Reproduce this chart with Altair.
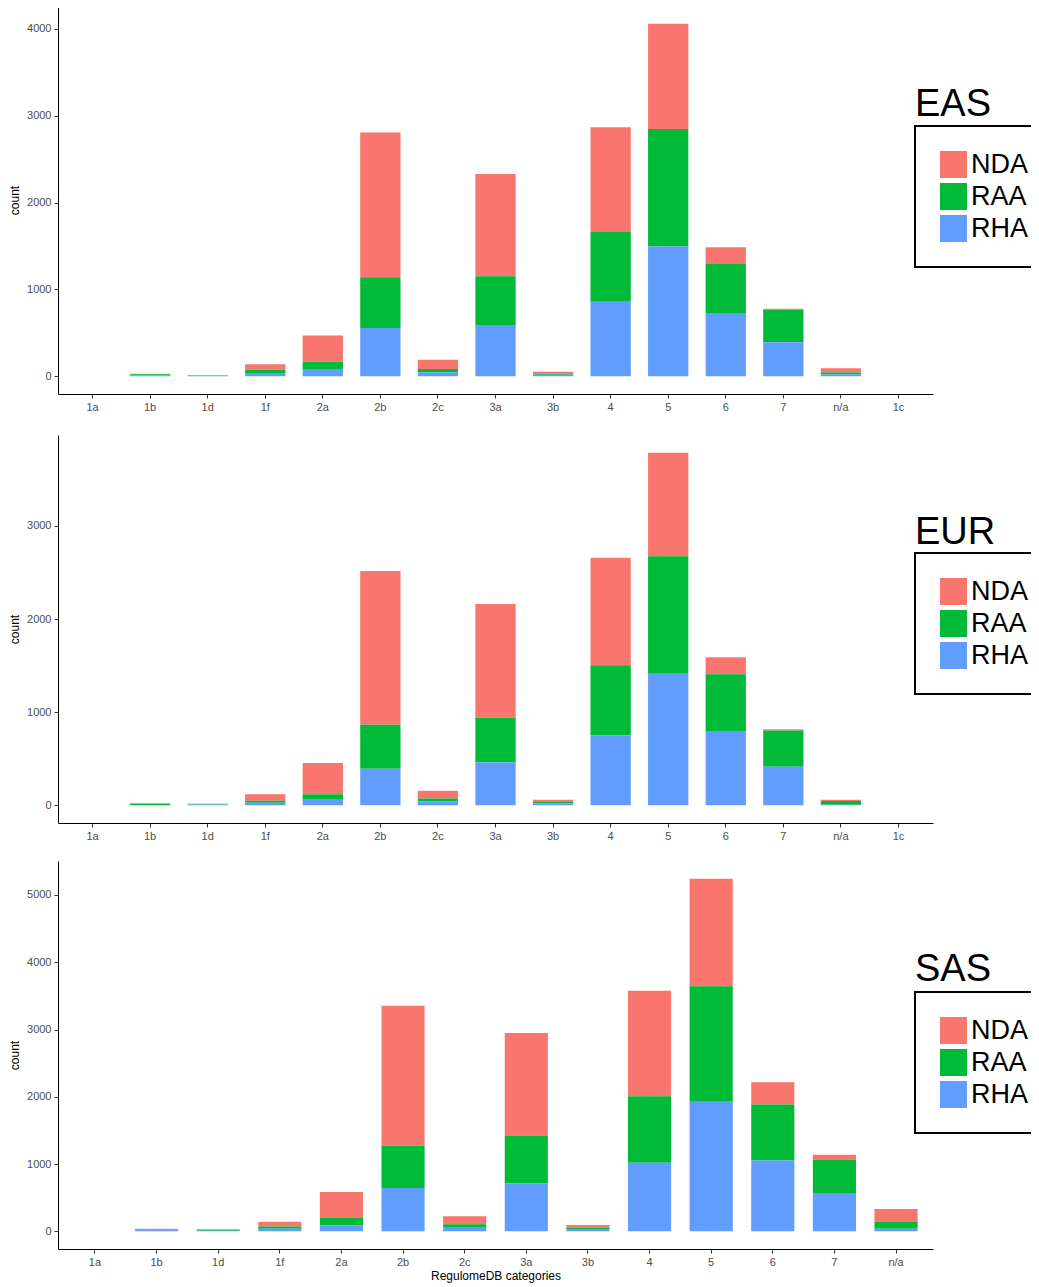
import altair as alt
import pandas as pd

categories_full = ["1a", "1b", "1d", "1f", "2a", "2b", "2c", "3a", "3b", "4", "5", "6", "7", "n/a", "1c"]
categories_sas = ["1a", "1b", "1d", "1f", "2a", "2b", "2c", "3a", "3b", "4", "5", "6", "7", "n/a"]
groups = ["NDA", "RAA", "RHA"]
colors = ["#F8766D", "#00BA38", "#619CFF"]

eas_nda = [0, 5, 6, 61, 302, 1667, 104, 1176, 20, 1207, 1212, 192, 11, 50, 0]
eas_raa = [0, 12, 0, 38, 92, 583, 42, 568, 14, 801, 1352, 571, 375, 23, 0]
eas_rha = [0, 13, 10, 39, 77, 557, 44, 584, 20, 860, 1496, 722, 393, 21, 0]

eur_nda = [0, 8, 0, 68, 336, 1650, 82, 1221, 25, 1153, 1111, 182, 14, 14, 0]
eur_raa = [0, 12, 8, 21, 57, 472, 32, 479, 15, 754, 1261, 611, 389, 40, 0]
eur_rha = [0, 2, 8, 29, 61, 393, 43, 461, 21, 750, 1414, 797, 415, 7, 0]

sas_nda = [0, 15, 10, 70, 385, 2082, 119, 1524, 36, 1567, 1598, 333, 70, 184]
sas_raa = [0, 5, 15, 34, 110, 627, 49, 712, 24, 990, 1706, 831, 498, 108]
sas_rha = [0, 20, 8, 40, 89, 644, 55, 712, 35, 1019, 1939, 1053, 570, 40]

FONT = "Liberation Sans, Arial, sans-serif"
stack_rank = {"RHA": 0, "RAA": 1, "NDA": 2}

PLOT_W = 875
PLOT_H = 388


def panel(name, cats, nda, raa, rha, legend_y, title_y, x_title):
    rows = []
    for g, vals in zip(groups, [nda, raa, rha]):
        for c, v in zip(cats, vals):
            rows.append({"cat": c, "grp": g, "count": v, "ord": stack_rank[g]})
    df = pd.DataFrame(rows)
    top = max(a + b + c for a, b, c in zip(nda, raa, rha))
    dom = [-0.05 * top, 1.05 * top]
    ticks = list(range(0, int(top) + 1, 1000))

    if x_title:
        x_axis = alt.Axis(title=x_title, labelAngle=0, titlePadding=3)
    else:
        x_axis = alt.Axis(title=None, labelAngle=0)

    bars = alt.Chart(df).mark_bar().encode(
        x=alt.X("cat:N", sort=cats,
                scale=alt.Scale(domain=cats, paddingInner=0.3, paddingOuter=0.25),
                axis=x_axis),
        y=alt.Y("count:Q", stack="zero",
                scale=alt.Scale(domain=dom, nice=False, zero=False),
                axis=alt.Axis(title="count", values=ticks, format="d", titlePadding=5)),
        color=alt.Color("grp:N",
                        scale=alt.Scale(domain=groups, range=colors),
                        legend=alt.Legend(title=None, orient="none",
                                          legendX=857, legendY=legend_y)),
        order=alt.Order("ord:Q", sort="ascending"),
    )
    label = alt.Chart(pd.DataFrame({"label": [name]})).mark_text(
        align="left", baseline="alphabetic", fontSize=38, font=FONT, color="black"
    ).encode(x=alt.value(857), y=alt.value(title_y), text="label:N")
    return alt.layer(bars, label).properties(width=PLOT_W, height=PLOT_H)


p1 = panel("EAS", categories_full, eas_nda, eas_raa, eas_rha, 120, 110, None)
p2 = panel("EUR", categories_full, eur_nda, eur_raa, eur_rha, 118, 109, None)
p3 = panel("SAS", categories_sas, sas_nda, sas_raa, sas_rha, 131, 120, "RegulomeDB categories")

upper = alt.vconcat(p1, p2, spacing=23).resolve_scale(
    color="independent", x="independent", y="independent"
).resolve_legend(color="independent")

chart = alt.vconcat(upper, p3, spacing=20).resolve_scale(
    color="independent", x="independent", y="independent"
).resolve_legend(color="independent").properties(
    padding={"left": 0, "top": -2, "right": -24, "bottom": 6}
).configure_view(stroke=None).configure_axis(
    grid=False,
    domainColor="black",
    domainWidth=1,
    tickColor="#333333",
    tickSize=4,
    labelColor="#4D4D4D",
    labelFont=FONT,
    labelFontSize=11,
    labelPadding=3,
    titleFont=FONT,
    titleFontSize=12,
    titleFontWeight="normal",
    titleColor="black",
).configure_legend(
    strokeColor="black",
    strokeWidth=2,
    padding=25,
    labelFont=FONT,
    labelFontSize=27,
    labelColor="black",
    labelOffset=4,
    symbolType="square",
    symbolSize=729,
    symbolStrokeWidth=0,
    rowPadding=4,
)

chart.save("out.html", embed_options={"renderer": "svg", "actions": False})
